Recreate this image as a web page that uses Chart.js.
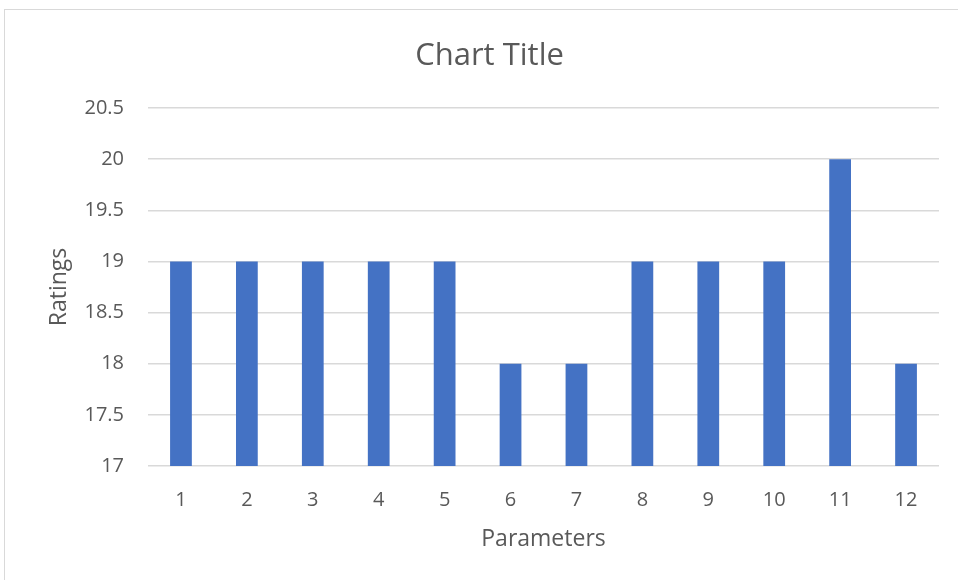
<!DOCTYPE html>
<html>
<head>
<meta charset="utf-8">
<script src="https://cdn.jsdelivr.net/npm/chart.js@4/dist/chart.umd.min.js"></script>
<style>
  html, body { margin: 0; padding: 0; background: #fff; overflow: hidden; }
  #wrap { position: relative; width: 958px; height: 580px; }
  #frame { position: absolute; left: 4px; top: 9px; width: 1000px; height: 1000px; border: 1px solid #d9d9d9; box-sizing: border-box; }
  #c { position: absolute; left: 0; top: 0; }
</style>
</head>
<body>
<div id="wrap">
  <div id="frame"></div>
  <canvas id="c" width="958" height="580"></canvas>
</div>
<script>
const categories = ["1","2","3","4","5","6","7","8","9","10","11","12"];
const ratings = [19, 19, 19, 19, 19, 18, 18, 19, 19, 19, 20, 18];
const chartTitle = "Chart Title";
const xAxisTitle = "Parameters";
const yAxisTitle = "Ratings";
const yMin = 17, yMax = 20.5, yStep = 0.5;

const textColor = "#595959";
const gridColor = "#d9d9d9";
const fontFamily = "'Open Sans', sans-serif";

new Chart(document.getElementById("c"), {
  type: "bar",
  data: {
    labels: categories,
    datasets: [{
      data: ratings,
      backgroundColor: "#4472C4",
      borderWidth: 0,
      barPercentage: 0.33,
      categoryPercentage: 1
    }]
  },
  options: {
    responsive: false,
    animation: false,
    devicePixelRatio: 1,
    layout: { padding: { left: 40, right: 19, top: 0, bottom: 0 } },
    plugins: {
      legend: { display: false },
      tooltip: { enabled: false },
      title: {
        display: true,
        text: chartTitle,
        color: textColor,
        font: { family: fontFamily, size: 31, weight: "normal" },
        padding: { top: 37.4, bottom: 33.4 }
      }
    },
    scales: {
      x: {
        grid: { display: false, drawTicks: false },
        border: { display: false },
        ticks: { color: textColor, font: { family: fontFamily, size: 20 }, padding: 22 },
        title: {
          display: true, text: xAxisTitle, color: textColor,
          font: { family: fontFamily, size: 23 },
          padding: { top: 0, bottom: 27 }
        },
        afterFit: (s) => { s.height = 114; }
      },
      y: {
        min: yMin, max: yMax,
        grid: { color: gridColor, lineWidth: 1.5, drawTicks: false },
        border: { display: false },
        ticks: {
          stepSize: yStep, color: textColor,
          font: { family: fontFamily, size: 20 }, padding: 24,
          callback: (v) => String(v)
        },
        title: {
          display: true, text: yAxisTitle, color: textColor,
          font: { family: fontFamily, size: 23 },
          padding: { top: 6, bottom: 0 }
        },
        afterFit: (s) => { s.width = 108; }
      }
    }
  }
});
</script>
</body>
</html>
